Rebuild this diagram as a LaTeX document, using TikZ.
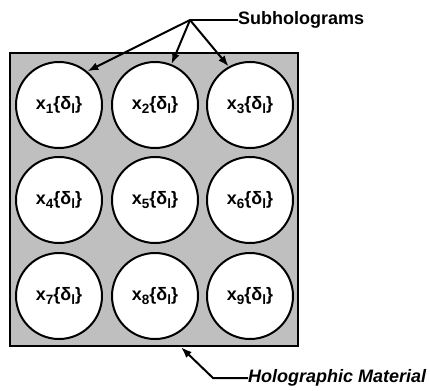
\documentclass[tikz,border=0pt]{standalone}
\usepackage{fontspec}
\setmainfont{Liberation Sans}
\usepackage{tikz}
\usetikzlibrary{arrows.meta,positioning,calc}
\newcommand{\lowidx}[1]{\raisebox{-0.4ex}{\fontsize{13.5}{13.5}\selectfont #1}}

\begin{document}
\begin{tikzpicture}[>={Latex[length=11pt,width=8pt]},x=1pt,y=-1pt]
  \tikzstyle{sub}=[draw,circle,line width=2pt,fill=white,minimum size=86pt,inner sep=0pt,font=\bfseries\fontsize{18}{18}\selectfont]
  \tikzstyle{lbl}=[font=\bfseries\fontsize{18}{18}\selectfont,anchor=west,inner sep=0pt]
  \tikzstyle{lead}=[line width=2pt]
  \useasboundingbox (0,0) rectangle (430,390);

  % Holographic material
  \node[draw,line width=2.4pt,fill=black!25,minimum width=288pt,minimum height=293pt,inner sep=0pt] (mat) at (154,199.5) {};

  % Subholograms
  \node[sub] (s1) at (59,105) {x\lowidx{1}\{δ\lowidx{l}\}};
  \node[sub] (s2) at (155,105) {x\lowidx{2}\{δ\lowidx{l}\}};
  \node[sub] (s3) at (250,105) {x\lowidx{3}\{δ\lowidx{l}\}};
  \node[sub] (s4) at (59,200) {x\lowidx{4}\{δ\lowidx{l}\}};
  \node[sub] (s5) at (155,200) {x\lowidx{5}\{δ\lowidx{l}\}};
  \node[sub] (s6) at (250,200) {x\lowidx{6}\{δ\lowidx{l}\}};
  \node[sub] (s7) at (59,296) {x\lowidx{7}\{δ\lowidx{l}\}};
  \node[sub] (s8) at (155,296) {x\lowidx{8}\{δ\lowidx{l}\}};
  \node[sub] (s9) at (250,296) {x\lowidx{9}\{δ\lowidx{l}\}};

  % Labels
  \node[lbl] (sublbl) at (238,20) {Subholograms};
  \node[lbl] (matlbl) at (248,378) {\itshape Holographic Material};

  \coordinate (hub) at (190,20);
  \coordinate (bend) at (213,378);

  \draw[lead] (sublbl.west) -- (hub);
  \draw[lead,->] (hub) -- (s1.50);
  \draw[lead,->] (hub) -- (s2.68);
  \draw[lead,->] (hub) -- (s3.119);

  \draw[lead,->] (matlbl.west) -- (bend) -- (mat.south -| 181,0);
\end{tikzpicture}
\end{document}
